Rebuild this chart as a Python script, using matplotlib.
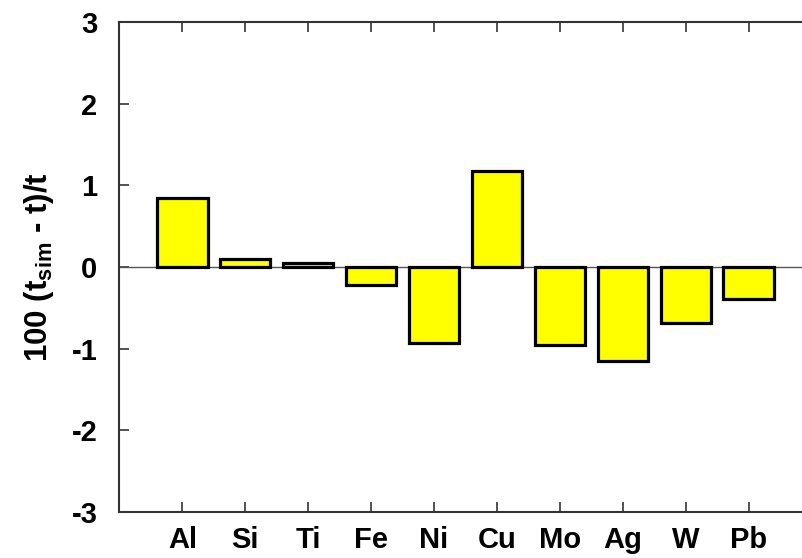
import matplotlib
matplotlib.use("Agg")
import matplotlib.pyplot as plt

elements = ["Al", "Si", "Ti", "Fe", "Ni", "Cu", "Mo", "Ag", "W", "Pb"]
deviation = [0.85, 0.10, 0.05, -0.22, -0.93, 1.17, -0.96, -1.15, -0.69, -0.39]
y_ticks = [-3, -2, -1, 0, 1, 2, 3]

plt.rcParams["font.family"] = ["Liberation Sans", "DejaVu Sans"]
plt.rcParams["font.weight"] = "bold"
plt.rcParams["mathtext.fontset"] = "custom"
plt.rcParams["mathtext.rm"] = "Liberation Sans:bold"
plt.rcParams["mathtext.bf"] = "Liberation Sans:bold"

fig = plt.figure(figsize=(8.02, 5.58), dpi=100)
W, H = 802, 558
left, right, top, bottom = 119.5, 811.5, 22, 512
ax = fig.add_axes([left / W, 1 - bottom / H, (right - left) / W, (bottom - top) / H])

pos = list(range(1, len(elements) + 1))
ax.bar(pos, deviation, width=0.8, color="#ffff00", edgecolor="black",
       linewidth=2.3, zorder=3)
ax.axhline(0, color="#555555", linewidth=1.0, zorder=2)

ax.set_xlim(0, 11)
ax.set_ylim(-3, 3)
ax.set_xticks(pos)
ax.set_xticklabels(elements, fontsize=21, fontweight="bold")
ax.set_yticks(y_ticks)
ax.set_yticklabels([str(v) for v in y_ticks], fontsize=21, fontweight="bold")
ax.tick_params(axis="both", direction="in", length=7, width=1.2, color="#333333",
               top=True, right=False)
ax.tick_params(axis="x", pad=10)
ax.tick_params(axis="y", pad=16)

for s in ax.spines.values():
    s.set_color("#333333")
    s.set_linewidth(1.5)
ax.spines["right"].set_visible(False)

ax.set_ylabel(r"100 (t$_{\mathrm{sim}}$ - t)/t", fontsize=22.5, fontweight="bold", labelpad=11)

fig.savefig("out.png", dpi=100)
